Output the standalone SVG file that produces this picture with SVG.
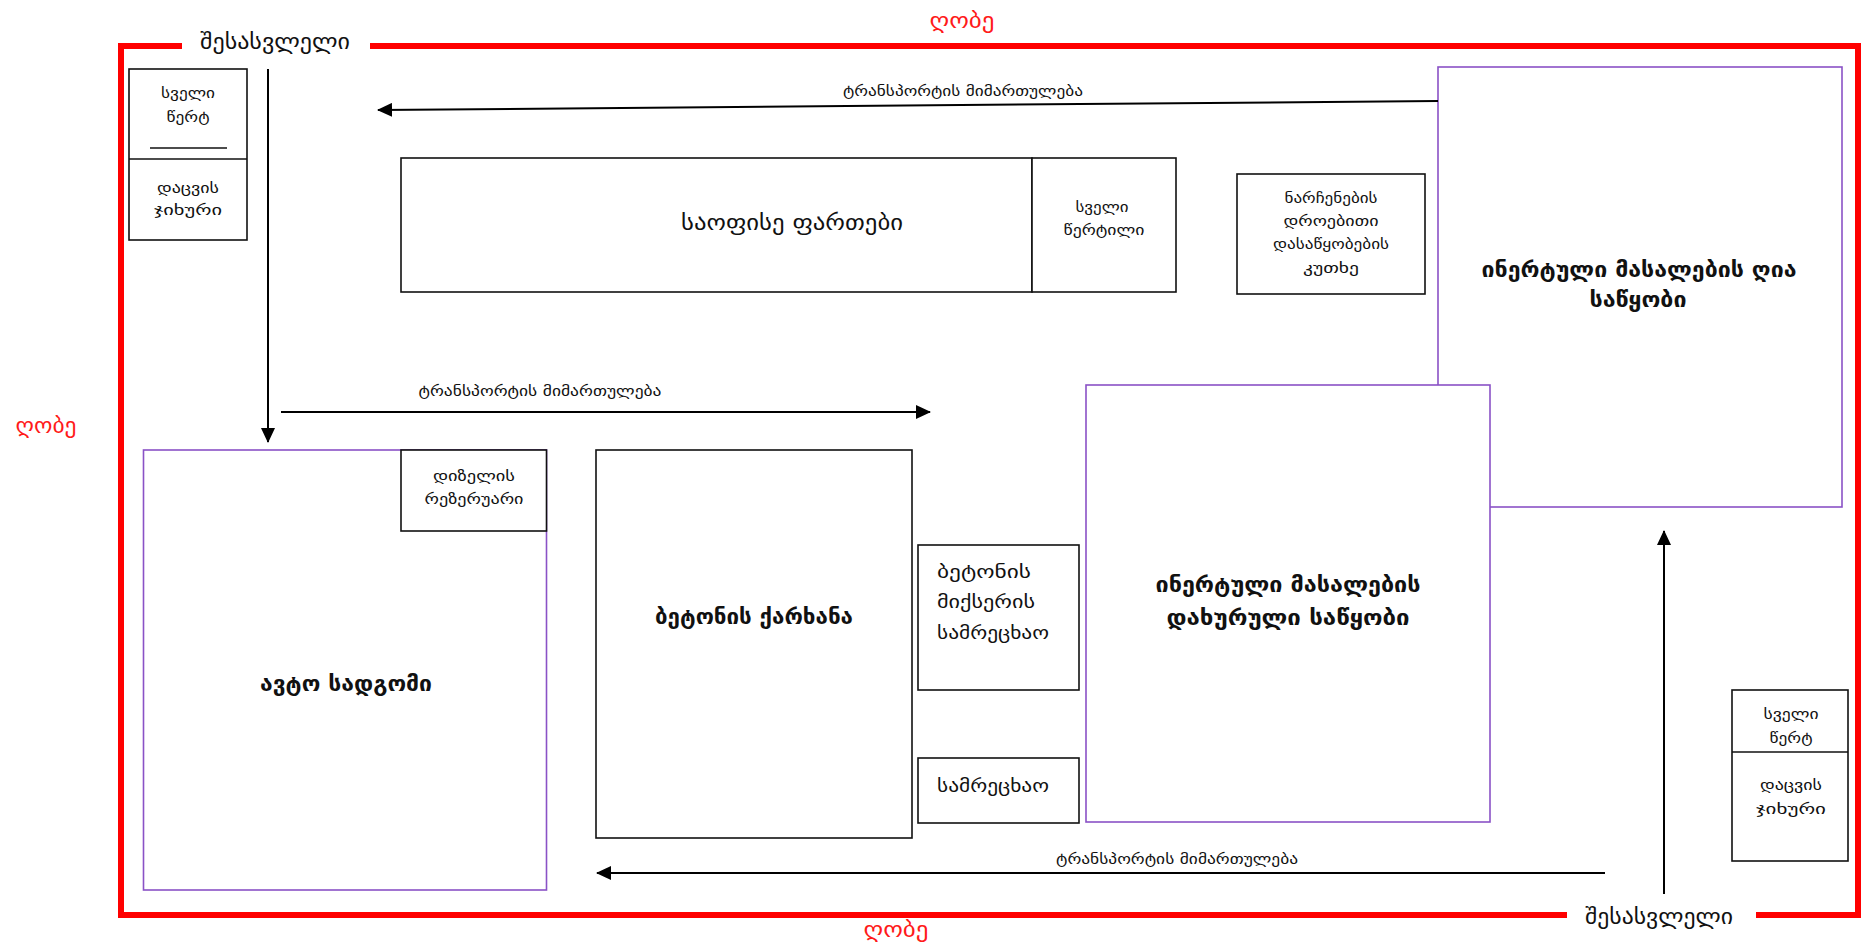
<svg xmlns="http://www.w3.org/2000/svg" width="1861" height="950" viewBox="0 0 1861 950">
<defs>
<style>
text{font-family:"DejaVu Sans","Noto Sans",sans-serif;fill:#111;text-anchor:middle}
.fence{fill:none;stroke:#ff0000;stroke-width:6}
.red{fill:#ff1a1a;font-size:22px}
.gate{font-size:21.5px}
.box{fill:#fff;stroke:#111;stroke-width:1.6}
.pbox{fill:#fff;stroke:#8a52c6;stroke-width:1.6}
.sm{font-size:14.5px}
.tr{font-size:14.5px}
.big{font-size:21px;font-weight:bold}
.mid{font-size:21px}
.lt{text-anchor:start;font-size:17.5px}
.arr{fill:none;stroke:#000;stroke-width:2}
</style>
<marker id="ah" markerWidth="15" markerHeight="14" refX="14" refY="7" orient="auto" markerUnits="userSpaceOnUse">
<path d="M0,0 L15,7 L0,14 Z" fill="#000"/>
</marker>
</defs>
<rect width="1861" height="950" fill="#fff"/>

<g id="fence">
<path class="fence" d="M182,46 H121 V915 H1567"/>
<path class="fence" d="M370,46 H1858 V915 H1756"/>
<text class="red" x="962" y="28" textLength="65" lengthAdjust="spacingAndGlyphs">ღობე</text>
<text class="red" x="46" y="433" textLength="61" lengthAdjust="spacingAndGlyphs">ღობე</text>
<text class="red" x="896" y="937" textLength="65" lengthAdjust="spacingAndGlyphs">ღობე</text>
<text class="gate" x="275" y="49" textLength="150" lengthAdjust="spacingAndGlyphs">შესასვლელი</text>
<text class="gate" x="1659" y="924" textLength="148" lengthAdjust="spacingAndGlyphs">შესასვლელი</text>
</g>

<g id="guard-top">
<rect class="box" x="129" y="69" width="118" height="171"/>
<line x1="129" y1="159" x2="247" y2="159" stroke="#111" stroke-width="1.6"/>
<line x1="150" y1="148" x2="227" y2="148" stroke="#111" stroke-width="1.4"/>
<text class="sm" x="188" y="98" textLength="54" lengthAdjust="spacingAndGlyphs">სველი</text>
<text class="sm" x="188" y="122" textLength="43" lengthAdjust="spacingAndGlyphs">წერტ</text>
<text class="sm" x="188" y="193" textLength="62" lengthAdjust="spacingAndGlyphs">დაცვის</text>
<text class="sm" x="188" y="215" textLength="68" lengthAdjust="spacingAndGlyphs">ჯიხური</text>
</g>

<g id="office">
<rect class="box" x="401" y="158" width="631" height="134"/>
<text class="mid" x="792" y="230" textLength="222" lengthAdjust="spacingAndGlyphs">საოფისე ფართები</text>
</g>
<g id="wc-office">
<rect class="box" x="1032" y="158" width="144" height="134"/>
<text class="sm" x="1102" y="212" textLength="53" lengthAdjust="spacingAndGlyphs">სველი</text>
<text class="sm" x="1104" y="235" textLength="81" lengthAdjust="spacingAndGlyphs">წერტილი</text>
</g>

<g id="waste">
<rect class="box" x="1237" y="174" width="188" height="120"/>
<text class="sm" x="1331" y="203" textLength="93" lengthAdjust="spacingAndGlyphs">ნარჩენების</text>
<text class="sm" x="1331" y="226" textLength="95" lengthAdjust="spacingAndGlyphs">დროებითი</text>
<text class="sm" x="1331" y="249" textLength="116" lengthAdjust="spacingAndGlyphs">დასაწყობების</text>
<text class="sm" x="1331" y="273" textLength="56" lengthAdjust="spacingAndGlyphs">კუთხე</text>
</g>

<g id="open-storage">
<rect class="pbox" x="1438" y="67" width="404" height="440"/>
<text class="big" x="1639" y="277" textLength="315" lengthAdjust="spacingAndGlyphs">ინერტული მასალების ღია</text>
<text class="big" x="1638" y="307" textLength="97" lengthAdjust="spacingAndGlyphs">საწყობი</text>
</g>

<g id="closed-storage">
<rect class="pbox" x="1086" y="385" width="404" height="437"/>
<text class="big" x="1288" y="592" textLength="265" lengthAdjust="spacingAndGlyphs">ინერტული მასალების</text>
<text class="big" x="1288" y="625" textLength="243" lengthAdjust="spacingAndGlyphs">დახურული საწყობი</text>
</g>

<g id="parking">
<rect class="pbox" x="143.5" y="450" width="403" height="440"/>
<text class="big" x="346" y="691" textLength="172" lengthAdjust="spacingAndGlyphs">ავტო სადგომი</text>
</g>
<g id="diesel">
<rect class="box" x="401" y="450" width="145.5" height="81"/>
<text class="sm" x="474" y="481" textLength="82" lengthAdjust="spacingAndGlyphs">დიზელის</text>
<text class="sm" x="474" y="504" textLength="99" lengthAdjust="spacingAndGlyphs">რეზერუარი</text>
</g>

<g id="concrete-plant">
<rect class="box" x="596" y="450" width="316" height="388"/>
<text class="big" x="754" y="624" textLength="198" lengthAdjust="spacingAndGlyphs">ბეტონის ქარხანა</text>
</g>

<g id="mixer-wash">
<rect class="box" x="918" y="545" width="161" height="145"/>
<text class="lt" x="937" y="578" textLength="94" lengthAdjust="spacingAndGlyphs">ბეტონის</text>
<text class="lt" x="937" y="608" textLength="98" lengthAdjust="spacingAndGlyphs">მიქსერის</text>
<text class="lt" x="937" y="639" textLength="112" lengthAdjust="spacingAndGlyphs">სამრეცხაო</text>
</g>
<g id="wash">
<rect class="box" x="918" y="758" width="161" height="65"/>
<text class="lt" x="937" y="792" textLength="112" lengthAdjust="spacingAndGlyphs">სამრეცხაო</text>
</g>

<g id="guard-bottom">
<rect class="box" x="1732" y="690" width="116" height="171"/>
<line x1="1732" y1="752" x2="1848" y2="752" stroke="#111" stroke-width="1.6"/>
<text class="sm" x="1791" y="719" textLength="55" lengthAdjust="spacingAndGlyphs">სველი</text>
<text class="sm" x="1791" y="743" textLength="43" lengthAdjust="spacingAndGlyphs">წერტ</text>
<text class="sm" x="1791" y="790" textLength="62" lengthAdjust="spacingAndGlyphs">დაცვის</text>
<text class="sm" x="1791" y="814" textLength="70" lengthAdjust="spacingAndGlyphs">ჯიხური</text>
</g>

<g id="connectors">
<line class="arr" x1="268" y1="69" x2="268" y2="442" marker-end="url(#ah)"/>
<line class="arr" x1="1438" y1="101" x2="378" y2="110" marker-end="url(#ah)"/>
<line class="arr" x1="281" y1="412" x2="930" y2="412" marker-end="url(#ah)"/>
<line class="arr" x1="1605" y1="873" x2="597" y2="873" marker-end="url(#ah)"/>
<line class="arr" x1="1664" y1="894" x2="1664" y2="531" marker-end="url(#ah)"/>
<text class="tr" x="963" y="96" textLength="240" lengthAdjust="spacingAndGlyphs">ტრანსპორტის მიმართულება</text>
<text class="tr" x="540" y="396" textLength="243" lengthAdjust="spacingAndGlyphs">ტრანსპორტის მიმართულება</text>
<text class="tr" x="1177" y="864" textLength="242" lengthAdjust="spacingAndGlyphs">ტრანსპორტის მიმართულება</text>
</g>
</svg>
